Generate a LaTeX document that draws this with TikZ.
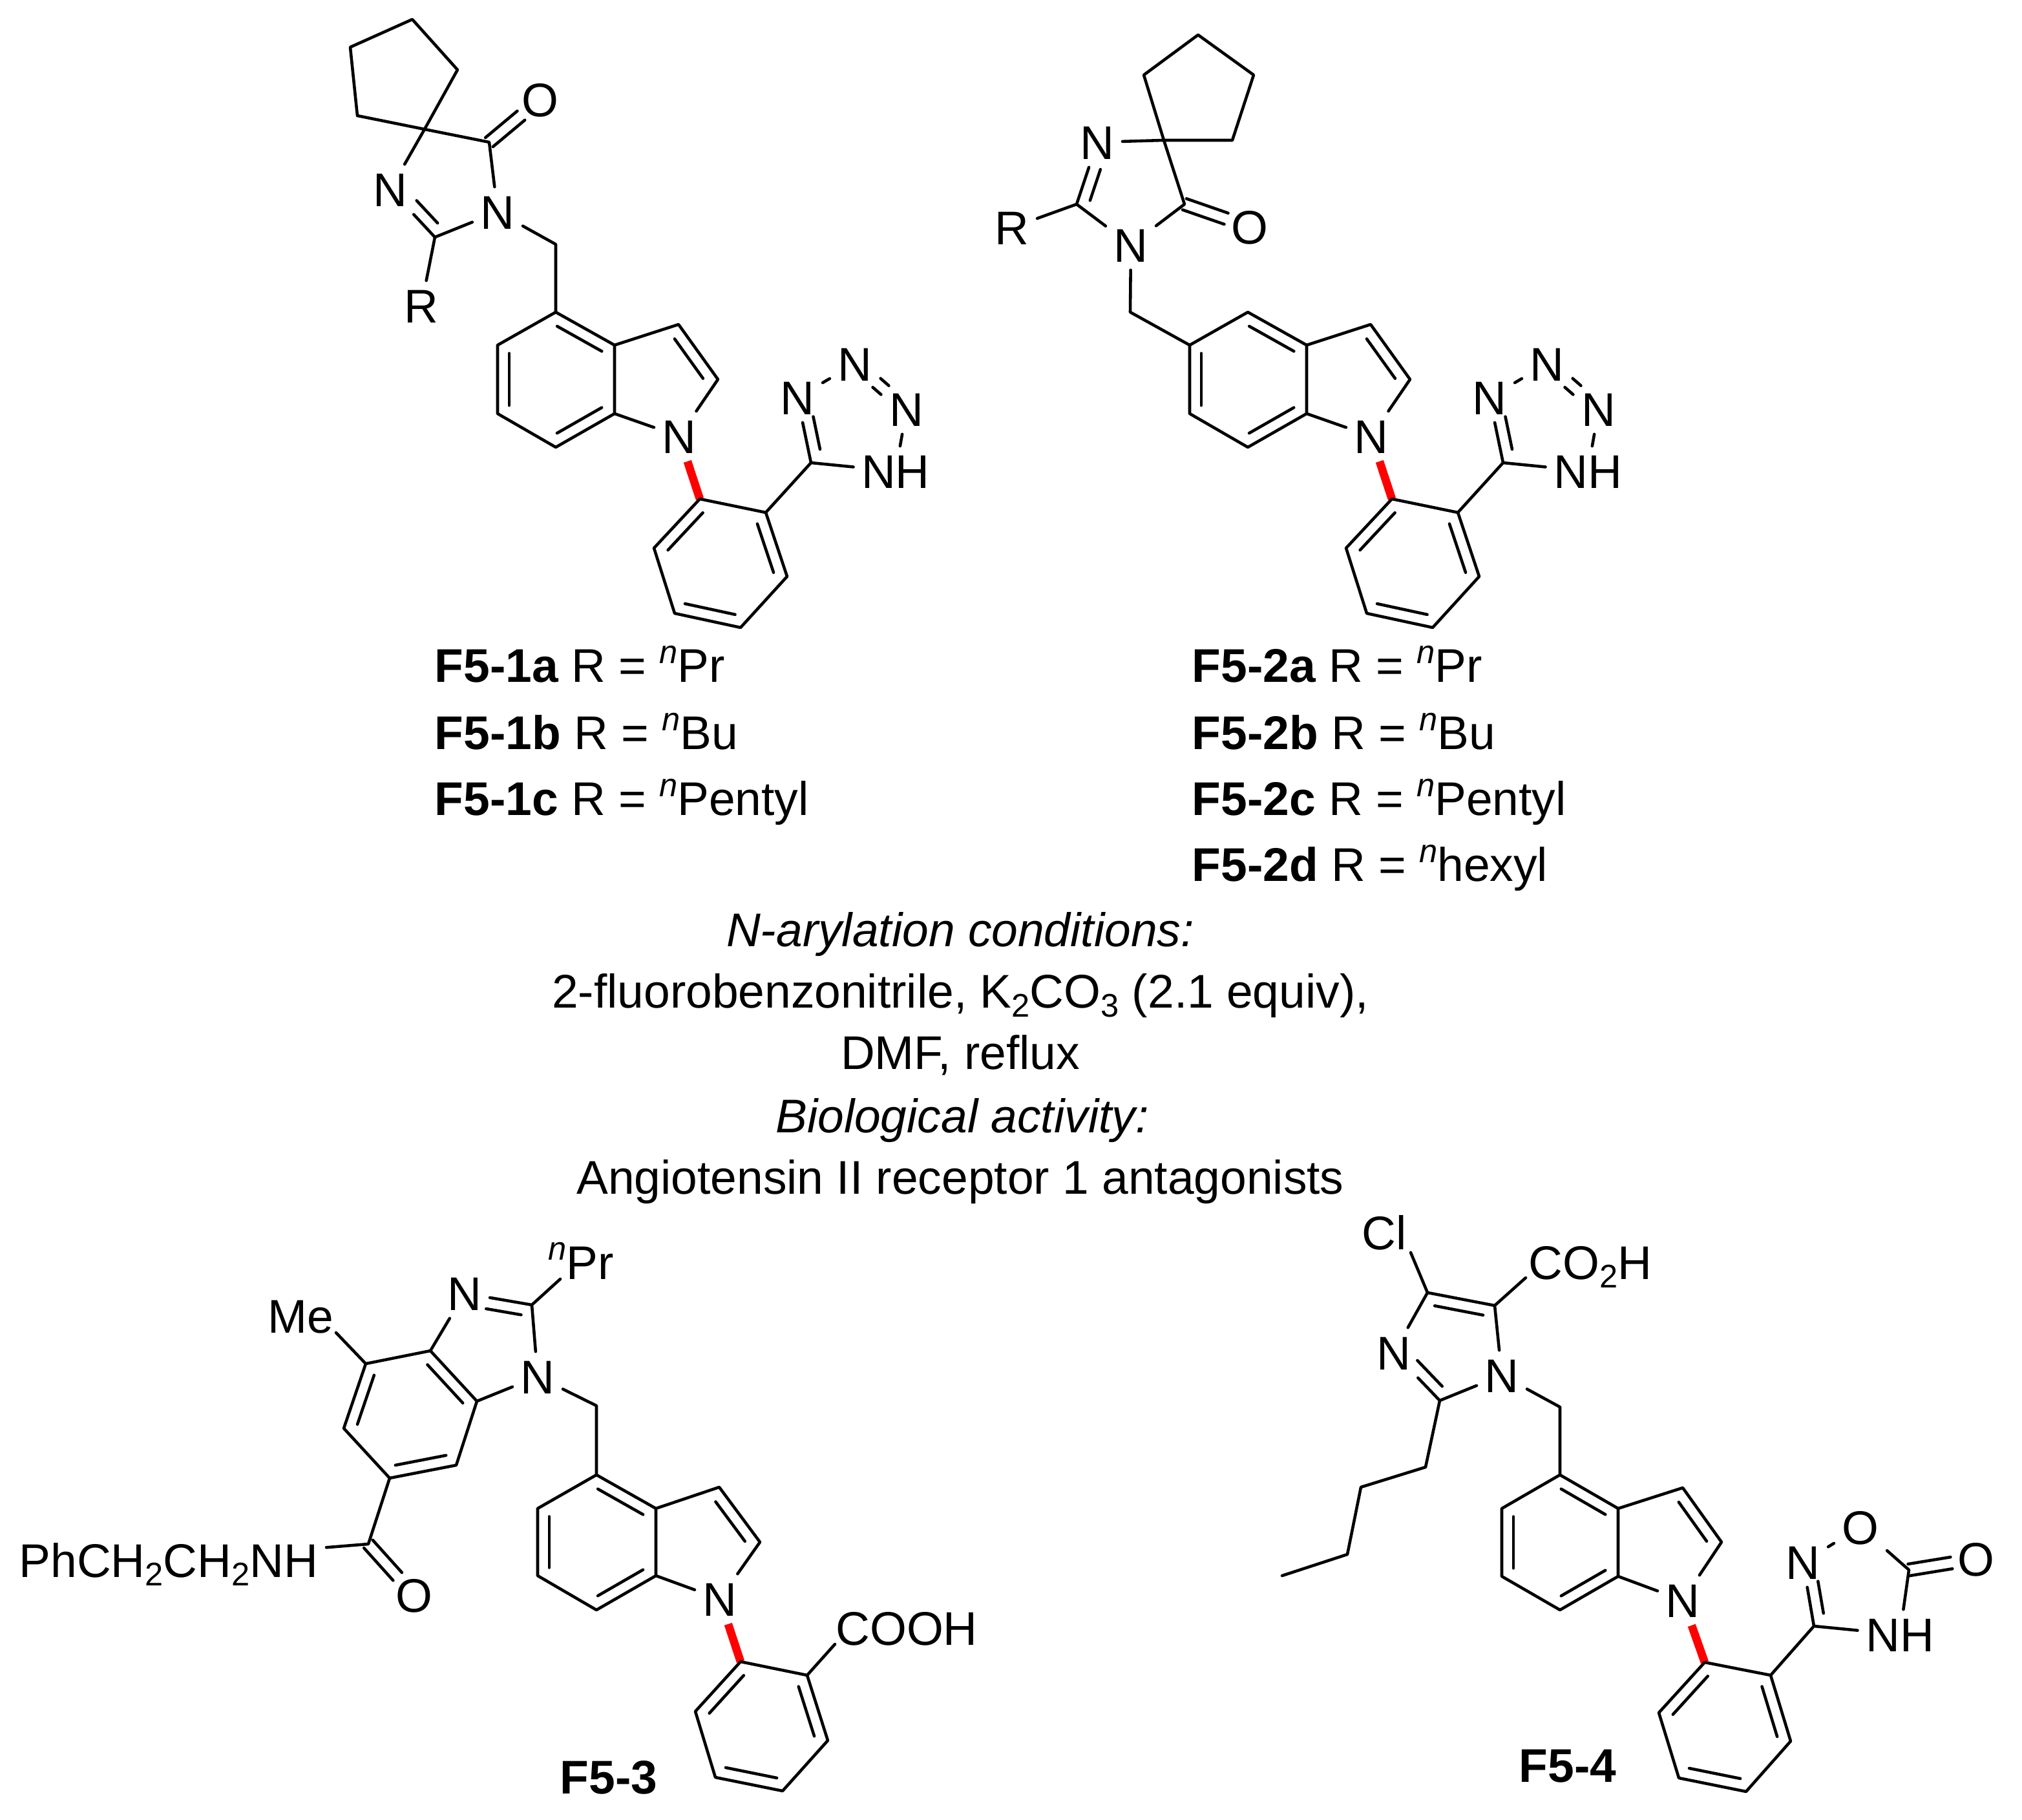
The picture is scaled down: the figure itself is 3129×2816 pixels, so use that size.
\documentclass[tikz,border=0pt]{standalone}
\usepackage{fontspec}
\setmainfont{Liberation Sans}
\usetikzlibrary{calc}
\newcommand{\supn}{\raisebox{8.5pt}{\fontsize{14.4}{14.4}\selectfont\itshape n}}
\newcommand{\subd}[1]{\raisebox{-3.7pt}{\fontsize{14.4}{14.4}\selectfont #1}}
\newcommand{\inbond}[4]{\draw[bond] ($(#1)!#3!(#2)!5.1pt!90:(#2)$) -- ($(#2)!#4!(#1)!5.1pt!-90:(#1)$);}
\newcommand{\ringbond}[2]{\inbond{#1}{#2}{0.12}{0.12}}
\newcommand{\symbond}[4]{\draw[bond,shorten <=#3,shorten >=#4] ($(#1)!2.6pt!90:(#2)$) -- ($(#2)!2.6pt!-90:(#1)$);
	\draw[bond,shorten <=#3,shorten >=#4] ($(#1)!2.6pt!-90:(#2)$) -- ($(#2)!2.6pt!90:(#1)$);}
\tikzset{
	bond/.style={line width=1.3pt},
	redbond/.style={line width=3.6pt,red,line cap=butt},
	atom/.style={inner sep=3.4pt,text height=14.9pt,text depth=0pt},
	lab/.style={inner sep=0pt,anchor=base west},
	mid/.style={inner sep=0pt,anchor=base}
}
\begin{document}
\begin{tikzpicture}[x=0.01cm, y=-0.01cm, line join=round, line cap=round, font=\fontsize{20.8}{24}\selectfont]
	\useasboundingbox (0,0) rectangle (3129,2816);
	\coordinate (acp1) at (542,73); \coordinate (acp2) at (638,30); \coordinate (acp3) at (708,108); \coordinate (acp4) at (553,179);
	\coordinate (asp) at (657,200); \coordinate (aco) at (757,220); \coordinate (ac2) at (673,367); \coordinate (ach) at (860,378);
	\coordinate (ab1) at (860,483); \coordinate (ab2) at (770,534); \coordinate (ab3) at (770,640); \coordinate (ab4) at (860,692);
	\coordinate (ab5) at (951,640); \coordinate (ab6) at (951,534); \coordinate (apy1) at (1050,502); \coordinate (apy2) at (1111,587);
	\coordinate (aph1) at (1083,772); \coordinate (aph2) at (1185,793); \coordinate (aph3) at (1218,892); \coordinate (aph4) at (1146,971);
	\coordinate (aph5) at (1044,949); \coordinate (aph6) at (1012,848); \coordinate (atz) at (1255,716);
	\node[atom] (aO) at (836,154) {O};
	\node[atom] (aN1) at (604,293) {N};
	\node[atom] (aN3) at (770,328) {N};
	\node[atom] (aR) at (652,473) {R};
	\node[atom] (aN) at (1051,675) {N};
	\node[atom] (aNa) at (1234,615) {N};
	\node[atom] (aNb) at (1323,563) {N};
	\node[atom] (aNc) at (1403,633) {N};
	\node[atom] (aNH) at (1386,729) {NH};
	\draw[redbond] (aN) -- (aph1);
	\draw[bond] (acp4) -- (acp1) -- (acp2) -- (acp3) -- (asp) -- (aN1) (acp4) -- (asp) -- (aco) -- (aN3) -- (ac2) -- (aN1);
	\draw[bond] (ac2) -- (aR) (aN3) -- (ach) -- (ab1);
	\symbond{aco}{aO}{0pt}{11pt}
	\inbond{aN1}{ac2}{0.4}{0.13}
	\draw[bond] (ab1) -- (ab2) -- (ab3) -- (ab4) -- (ab5) -- (ab6) -- cycle (ab6) -- (apy1) -- (apy2) -- (aN) -- (ab5);
	\ringbond{ab6}{ab1} \ringbond{ab2}{ab3} \ringbond{ab4}{ab5} \inbond{apy2}{apy1}{0.14}{0.14}
	\draw[bond] (aph1) -- (aph2) -- (aph3) -- (aph4) -- (aph5) -- (aph6) -- cycle (aph2) -- (atz) -- (aNa) -- (aNb) (aNc) -- (aNH) -- (atz);
	\ringbond{aph1}{aph6} \ringbond{aph3}{aph2} \ringbond{aph5}{aph4}
	\inbond{aNa}{atz}{0.33}{0.17}
	\symbond{aNb}{aNc}{12.7pt}{12.7pt}

	\coordinate (bcp1) at (1854,54); \coordinate (bcp2) at (1940,116); \coordinate (bcp3) at (1907,217); \coordinate (bcp4) at (1770,116);
	\coordinate (bsp) at (1801,217); \coordinate (bco) at (1833,316); \coordinate (bc2) at (1666,316); \coordinate (bch) at (1749,483);
	\coordinate (bb1) at (1931,483); \coordinate (bb2) at (1841,534); \coordinate (bb3) at (1841,640); \coordinate (bb4) at (1931,692);
	\coordinate (bb5) at (2022,640); \coordinate (bb6) at (2022,534); \coordinate (bpy1) at (2121,502); \coordinate (bpy2) at (2182,587);
	\coordinate (bph1) at (2154,772); \coordinate (bph2) at (2256,793); \coordinate (bph3) at (2289,892); \coordinate (bph4) at (2217,971);
	\coordinate (bph5) at (2115,949); \coordinate (bph6) at (2083,848); \coordinate (btz) at (2326,716);
	\node[atom] (bO) at (1934,351) {O};
	\node[atom] (bN1) at (1698,220) {N};
	\node[atom] (bN3) at (1750,379) {N};
	\node[atom] (bR) at (1566,352) {R};
	\node[atom] (bN) at (2122,675) {N};
	\node[atom] (bNa) at (2305,615) {N};
	\node[atom] (bNb) at (2394,563) {N};
	\node[atom] (bNc) at (2474,633) {N};
	\node[atom] (bNH) at (2457,729) {NH};
	\draw[redbond] (bN) -- (bph1);
	\draw[bond] (bsp) -- (bcp3) -- (bcp2) -- (bcp1) -- (bcp4) -- (bsp) -- (bco) -- (bN3) -- (bc2) -- (bN1) -- (bsp);
	\draw[bond] (bc2) -- (bR) (bN3) -- (bch) -- (bb2);
	\symbond{bco}{bO}{0pt}{11pt}
	\inbond{bN1}{bc2}{0.38}{0.12}
	\draw[bond] (bb1) -- (bb2) -- (bb3) -- (bb4) -- (bb5) -- (bb6) -- cycle (bb6) -- (bpy1) -- (bpy2) -- (bN) -- (bb5);
	\ringbond{bb6}{bb1} \ringbond{bb2}{bb3} \ringbond{bb4}{bb5} \inbond{bpy2}{bpy1}{0.14}{0.14}
	\draw[bond] (bph1) -- (bph2) -- (bph3) -- (bph4) -- (bph5) -- (bph6) -- cycle (bph2) -- (btz) -- (bNa) -- (bNb) (bNc) -- (bNH) -- (btz);
	\ringbond{bph1}{bph6} \ringbond{bph3}{bph2} \ringbond{bph5}{bph4}
	\inbond{bNa}{btz}{0.33}{0.17}
	\symbond{bNb}{bNc}{12.7pt}{12.7pt}

	\node[lab] (la1) at (672,1056) {\textbf{F5-1a} R = \supn Pr};
	\node[lab] (la2) at (672,1160) {\textbf{F5-1b} R = \supn Bu};
	\node[lab] (la3) at (672,1262) {\textbf{F5-1c} R = \supn Pentyl};
	\node[lab] (lb1) at (1844,1056) {\textbf{F5-2a} R = \supn Pr};
	\node[lab] (lb2) at (1844,1160) {\textbf{F5-2b} R = \supn Bu};
	\node[lab] (lb3) at (1844,1262) {\textbf{F5-2c} R = \supn Pentyl};
	\node[lab] (lb4) at (1844,1364) {\textbf{F5-2d} R = \supn hexyl};
	\node[mid] (t1) at (1486,1465) {\textit{N-arylation conditions:}};
	\node[mid] (t2) at (1486,1560) {2-fluorobenzonitrile, K\subd{2}CO\subd{3} (2.1 equiv),};
	\node[mid] (t3) at (1486,1654) {DMF, reflux};
	\node[mid] (t4) at (1489,1752) {\textit{Biological activity:}};
	\node[mid] (t5) at (1486,1847) {Angiotensin II receptor 1 antagonists};

	\coordinate (cc4) at (566,2110); \coordinate (cc3a) at (666,2090); \coordinate (cc7a) at (738,2168); \coordinate (cc7) at (706,2267);
	\coordinate (cc6) at (603,2287); \coordinate (cc5) at (532,2210); \coordinate (cc2) at (823,2019); \coordinate (cch) at (923,2175);
	\coordinate (cco) at (570,2389); \coordinate (cb1) at (923,2282); \coordinate (cb2) at (832,2334); \coordinate (cb3) at (832,2438);
	\coordinate (cb4) at (923,2491); \coordinate (cb5) at (1015,2438); \coordinate (cb6) at (1015,2334); \coordinate (cpy1) at (1113,2301);
	\coordinate (cpy2) at (1176,2386); \coordinate (cph1) at (1146,2571); \coordinate (cph2) at (1249,2592); \coordinate (cph3) at (1281,2693);
	\coordinate (cph4) at (1211,2771); \coordinate (cph5) at (1107,2750); \coordinate (cph6) at (1076,2648);
	\coordinate (cme) at (520,2062); \coordinate (cpr) at (867,1979); \coordinate (cac) at (1292,2544);
	\node[atom] (cMe) at (465,2036) {Me};
	\node[atom] (cN3) at (719,2001) {N};
	\node[atom] (cN1) at (832,2130) {N};
	\node[lab] (cPr) at (848,1979) {\supn Pr};
	\node[atom] (cO) at (641,2468) {O};
	\node[atom] (cNH) at (261,2414) {PhCH\subd{2}CH\subd{2}NH};
	\node[atom] (cN) at (1114,2474) {N};
	\node[atom] (cCOOH) at (1403,2519) {COOH};
	\node[mid] (cF) at (942,2775) {\textbf{F5-3}};
	\draw[redbond] (cN) -- (cph1);
	\draw[bond] (cc4) -- (cc3a) -- (cc7a) -- (cc7) -- (cc6) -- (cc5) -- cycle (cc4) -- (cme);
	\draw[bond] (cc3a) -- (cN3) -- (cc2) -- (cN1) -- (cc7a) (cc2) -- (cpr) (cN1) -- (cch) -- (cb1);
	\draw[bond] (cc6) -- (cco) -- (cNH);
	\ringbond{cc4}{cc5} \ringbond{cc7a}{cc3a} \ringbond{cc6}{cc7}
	\inbond{cc2}{cN3}{0.13}{0.35}
	\symbond{cco}{cO}{0pt}{11pt}
	\draw[bond] (cb1) -- (cb2) -- (cb3) -- (cb4) -- (cb5) -- (cb6) -- cycle (cb6) -- (cpy1) -- (cpy2) -- (cN) -- (cb5);
	\ringbond{cb6}{cb1} \ringbond{cb2}{cb3} \ringbond{cb4}{cb5} \inbond{cpy2}{cpy1}{0.14}{0.14}
	\draw[bond] (cph1) -- (cph2) -- (cph3) -- (cph4) -- (cph5) -- (cph6) -- cycle (cph2) -- (cac);
	\ringbond{cph1}{cph6} \ringbond{cph3}{cph2} \ringbond{cph5}{cph4}

	\coordinate (dc4) at (2209,2000); \coordinate (dc5) at (2313,2020); \coordinate (dc2) at (2228,2167); \coordinate (dch) at (2414,2177);
	\coordinate (dbu1) at (2206,2270); \coordinate (dbu2) at (2106,2301); \coordinate (dbu3) at (2085,2405); \coordinate (dbu4) at (1984,2438);
	\coordinate (db1) at (2414,2282); \coordinate (db2) at (2324,2334); \coordinate (db3) at (2324,2439); \coordinate (db4) at (2414,2491);
	\coordinate (db5) at (2504,2439); \coordinate (db6) at (2504,2334); \coordinate (dpy1) at (2604,2302); \coordinate (dpy2) at (2664,2386);
	\coordinate (dph1) at (2638,2572); \coordinate (dph2) at (2740,2592); \coordinate (dph3) at (2771,2694); \coordinate (dph4) at (2702,2772);
	\coordinate (dph5) at (2598,2751); \coordinate (dph6) at (2567,2650); \coordinate (dox) at (2807,2516); \coordinate (dco) at (2954,2429);
	\coordinate (dcl) at (2183,1938); \coordinate (dac) at (2361,1977);
	\node[atom] (dCl) at (2142,1907) {Cl};
	\node[atom] (dCOOH) at (2461,1953) {CO\subd{2}H};
	\node[atom] (dN3) at (2157,2093) {N};
	\node[atom] (dN1) at (2324,2128) {N};
	\node[atom] (dN) at (2604,2476) {N};
	\node[atom] (dNa) at (2790,2417) {N};
	\node[atom] (dOr) at (2879,2363) {O};
	\node[atom] (dO) at (3058,2412) {O};
	\node[atom] (dNH) at (2940,2529) {NH};
	\node[mid] (dF) at (2426,2757) {\textbf{F5-4}};
	\draw[redbond] (dN) -- (dph1);
	\draw[bond] (dc4) -- (dc5) -- (dN1) -- (dc2) -- (dN3) -- (dc4) -- (dcl) (dc5) -- (dac) (dN1) -- (dch) -- (db1);
	\draw[bond] (dc2) -- (dbu1) -- (dbu2) -- (dbu3) -- (dbu4);
	\inbond{dc5}{dc4}{0.14}{0.14}
	\inbond{dN3}{dc2}{0.33}{0.13}
	\draw[bond] (db1) -- (db2) -- (db3) -- (db4) -- (db5) -- (db6) -- cycle (db6) -- (dpy1) -- (dpy2) -- (dN) -- (db5);
	\ringbond{db6}{db1} \ringbond{db2}{db3} \ringbond{db4}{db5} \inbond{dpy2}{dpy1}{0.14}{0.14}
	\draw[bond] (dph1) -- (dph2) -- (dph3) -- (dph4) -- (dph5) -- (dph6) -- cycle (dph2) -- (dox) -- (dNa) -- (dOr) -- (dco) -- (dNH) -- (dox);
	\ringbond{dph1}{dph6} \ringbond{dph3}{dph2} \ringbond{dph5}{dph4}
	\inbond{dNa}{dox}{0.33}{0.17}
	\symbond{dco}{dO}{0pt}{11pt}
\end{tikzpicture}
\end{document}
